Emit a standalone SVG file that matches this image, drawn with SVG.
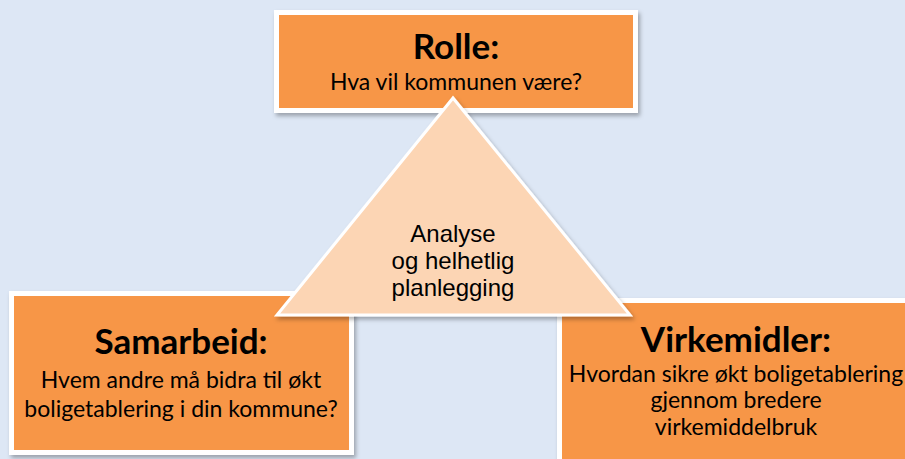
<svg xmlns="http://www.w3.org/2000/svg" width="905" height="459" viewBox="0 0 905 459">
  <defs>
    <filter id="sh" x="-10%" y="-10%" width="125%" height="130%">
      <feDropShadow dx="2" dy="3" stdDeviation="2" flood-color="#000" flood-opacity="0.3"/>
    </filter>
  </defs>
  <style>
    .box { fill: #f79646; stroke: #ffffff; stroke-width: 5; }
    .tri { fill: #fcd5b4; stroke: #ffffff; stroke-width: 3; stroke-linejoin: miter; }
    .title { font-family: Lato, "Open Sans", sans-serif; font-weight: bold; font-size: 35px; fill: #000; text-anchor: middle; }
    .sub { font-family: Lato, "Open Sans", sans-serif; font-size: 23px; fill: #000; text-anchor: middle; }
    .tt { font-family: "Liberation Sans", Arial, sans-serif; font-size: 24px; fill: #000; text-anchor: middle; }
  </style>
  <rect width="905" height="459" fill="#dde7f5"/>
  <g id="connectors"></g>
  <g id="rolle">
    <rect class="box" x="276.5" y="12.5" width="359" height="98" filter="url(#sh)"/>
    <text class="title" x="456" y="59">Rolle:</text>
    <text class="sub" x="456" y="90">Hva vil kommunen være?</text>
  </g>
  <g id="samarbeid">
    <rect class="box" x="11.5" y="293.5" width="340" height="159" filter="url(#sh)"/>
    <text class="title" x="181" y="354">Samarbeid:</text>
    <text class="sub" x="181" y="388">Hvem andre må bidra til økt</text>
    <text class="sub" x="181" y="417">boligetablering i din kommune?</text>
  </g>
  <g id="virkemidler">
    <rect class="box" x="559.5" y="300.5" width="360" height="170" filter="url(#sh)"/>
    <text class="title" x="736" y="352">Virkemidler:</text>
    <text class="sub" x="736" y="382">Hvordan sikre økt boligetablering</text>
    <text class="sub" x="736" y="408">gjennom bredere</text>
    <text class="sub" x="736" y="435">virkemiddelbruk</text>
  </g>
  <g id="analyse">
    <polygon class="tri" points="453,98 277,315 630,315" filter="url(#sh)"/>
    <text class="tt" x="453" y="242">Analyse</text>
    <text class="tt" x="453" y="269">og helhetlig</text>
    <text class="tt" x="453" y="296">planlegging</text>
  </g>
</svg>
